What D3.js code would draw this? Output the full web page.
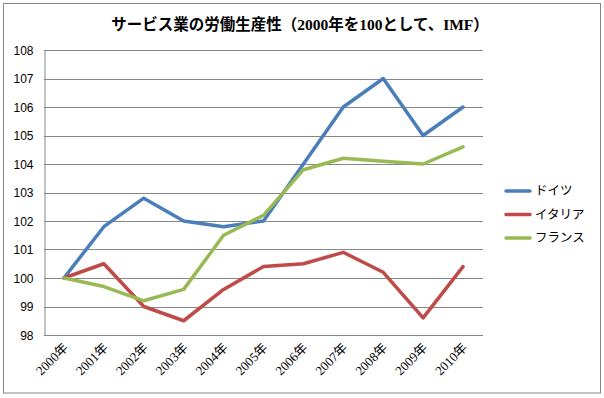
<!DOCTYPE html>
<meta charset="utf-8">
<title>サービス業の労働生産性</title>
<script src="https://d3js.org/d3.v7.min.js"></script>
<style>
  body { margin: 0; background: #fff; }
</style>
<body>
<svg id="chart" width="604" height="398"></svg>
</body>
<script>
// data
const years = ["2000年", "2001年", "2002年", "2003年", "2004年", "2005年",
               "2006年", "2007年", "2008年", "2009年", "2010年"]
const germany = [100, 101.8, 102.8, 102.0, 101.8, 102.0, 104.0, 106.0, 107.0, 105.0, 106.0]
const italy   = [100, 100.5, 99.0, 98.5, 99.6, 100.4, 100.5, 100.9, 100.2, 98.6, 100.4]
const france  = [100, 99.7, 99.2, 99.6, 101.5, 102.2, 103.8, 104.2, 104.1, 104.0, 104.6]
const seriesNames = ["ドイツ", "イタリア", "フランス"]
const yTicks = [98, 99, 100, 101, 102, 103, 104, 105, 106, 107, 108]

const colors = ["#4a7ebb", "#be4b48", "#98b954"]
const series = [germany, italy, france].map((v, i) => ({name: seriesNames[i], values: v, color: colors[i]}))

const svg = d3.select("#chart")
const serif = "'Liberation Serif', 'Noto Sans CJK JP', serif"
const sans = "'Liberation Sans', 'Noto Sans CJK JP', sans-serif"

// outer frame
svg.append("rect")
    .attr("x", 3.5).attr("y", 3.5)
    .attr("width", 597).attr("height", 389.5)
    .attr("fill", "#fff")
    .attr("stroke", "#868686")

svg.append("text")
    .attr("x", 300).attr("y", 30)
    .attr("text-anchor", "middle")
    .attr("font-family", serif)
    .attr("font-weight", "bold")
    .attr("font-size", 15.5)
    .text("サービス業の労働生産性（2000年を100として、IMF）")

const plotLeft = 44, plotRight = 483, plotTop = 50, plotBottom = 335

const x = d3.scaleBand().domain(years).range([plotLeft, plotRight])
const y = d3.scaleLinear().domain([98, 108]).range([plotBottom, plotTop])

// gridlines
svg.append("g")
    .selectAll("line")
    .data(yTicks)
    .join("line")
    .attr("x1", plotLeft).attr("x2", plotRight)
    .attr("y1", d => Math.round(y(d)) + 0.5)
    .attr("y2", d => Math.round(y(d)) + 0.5)
    .attr("stroke", "#868686")

// y axis
const yAxis = svg.append("g")
    .attr("transform", `translate(${plotLeft + 0.5},0.5)`)
    .call(d3.axisLeft(y).tickValues(yTicks).tickSize(0).tickPadding(11))
yAxis.select(".domain").attr("stroke", "#868686")
yAxis.selectAll("text")
    .attr("font-family", sans)
    .attr("font-size", 12)
    .attr("fill", "#000")

// x axis
const xAxis = svg.append("g")
    .attr("transform", `translate(0,${plotBottom + 0.5})`)
    .call(d3.axisBottom(x).tickSize(0).tickPadding(0))
xAxis.select(".domain").remove()
xAxis.selectAll("text")
    .attr("font-family", serif)
    .attr("font-size", 13)
    .attr("fill", "#000")
    .attr("text-anchor", "end")
    .attr("dy", 0)
    .attr("transform", "translate(5,13) rotate(-45)")

const line = d3.line()
    .x((d, i) => x(years[i]) + x.bandwidth() / 2)
    .y(d => y(d))

svg.append("g")
    .selectAll("path")
    .data(series)
    .join("path")
    .attr("d", d => line(d.values))
    .attr("fill", "none")
    .attr("stroke", d => d.color)
    .attr("stroke-width", 3.5)
    .attr("stroke-linejoin", "round")
    .attr("stroke-linecap", "round")

// legend
const legend = svg.append("g")
    .selectAll("g")
    .data(series)
    .join("g")
    .attr("transform", (d, i) => `translate(506,${191 + i * 23.5})`)
legend.append("line")
    .attr("x1", 0).attr("x2", 24)
    .attr("stroke", d => d.color)
    .attr("stroke-width", 3.5)
    .attr("stroke-linecap", "round")
legend.append("text")
    .attr("x", 29).attr("dy", "0.35em")
    .attr("font-family", sans)
    .attr("font-size", 12.5)
    .text(d => d.name)
</script>
</html>
